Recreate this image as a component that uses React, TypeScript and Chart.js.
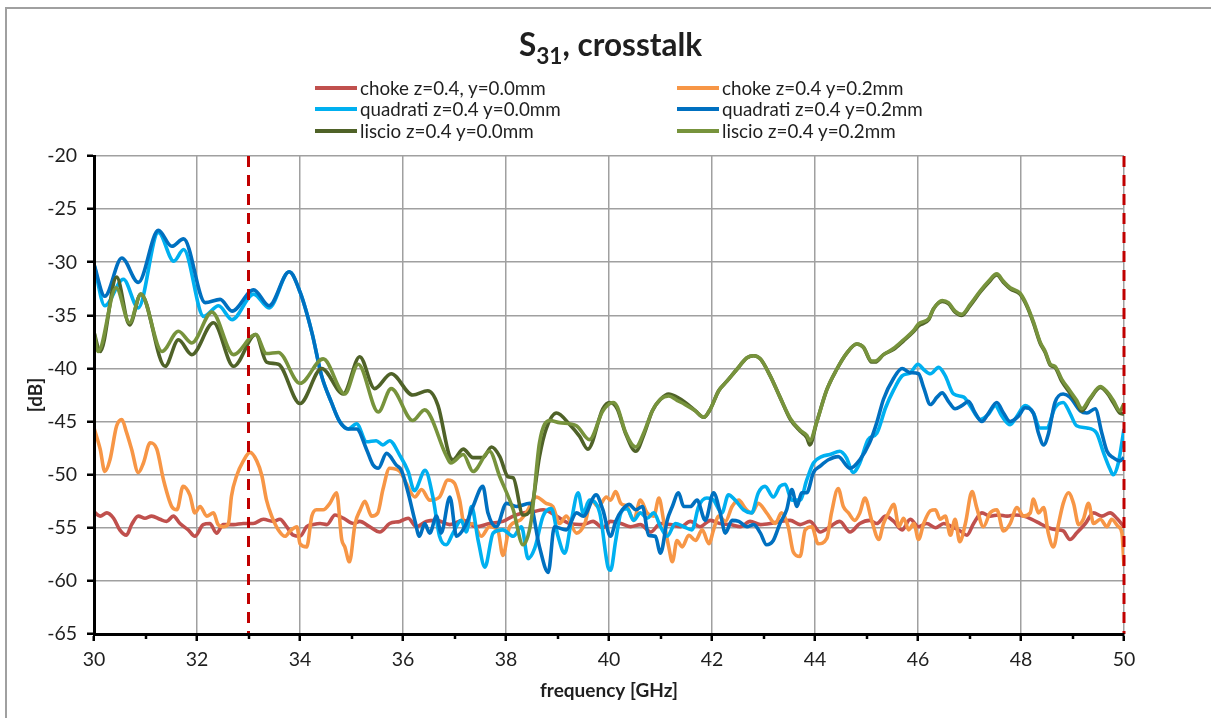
import React, { useEffect, useRef } from "react";
import { Chart, registerables } from "chart.js";

Chart.register(...registerables);

type Pt = [number, number];

// ---------- data: [frequency GHz, dB] ----------
const chokeY00: Pt[] = [
  [30.00,-53.5],[30.12,-53.9],[30.25,-53.6],[30.38,-54.1],[30.50,-55.2],[30.63,-55.7],[30.73,-54.7],[30.86,-53.9],[30.99,-54.1],[31.12,-53.9],
  [31.28,-54.2],[31.41,-54.4],[31.54,-53.9],[31.67,-54.6],[31.83,-55.2],[31.96,-55.8],[32.12,-54.7],[32.25,-54.6],[32.38,-55.5],[32.51,-54.7],
  [32.71,-54.7],[32.90,-54.6],[33.09,-54.6],[33.29,-54.2],[33.48,-54.4],[33.61,-54.2],[33.74,-54.9],[33.87,-55.7],[34.00,-55.8],[34.13,-54.9],
  [34.26,-54.7],[34.39,-54.6],[34.52,-54.7],[34.68,-53.8],[34.84,-54.1],[35.04,-54.6],[35.16,-54.4],[35.35,-54.9],[35.55,-55.4],[35.74,-54.6],
  [35.94,-54.4],[36.10,-54.1],[36.26,-54.9],[36.45,-54.4],[36.65,-54.3],[36.91,-54.7],[37.17,-54.3],[37.42,-54.9],[37.68,-54.6],[37.94,-54.4],
  [38.14,-53.9],[38.33,-53.6],[38.52,-53.5],[38.72,-53.3],[38.98,-53.9],[39.24,-54.6],[39.50,-54.7],[39.69,-54.4],[39.88,-55.0],[40.03,-54.4],
  [40.23,-54.6],[40.42,-54.9],[40.61,-54.7],[40.81,-55.4],[41.00,-54.6],[41.19,-54.7],[41.39,-54.9],[41.58,-54.4],[41.77,-54.9],[41.97,-54.3],
  [42.16,-54.6],[42.35,-54.7],[42.55,-54.9],[42.74,-54.4],[42.94,-54.7],[43.13,-54.6],[43.32,-54.4],[43.52,-54.3],[43.71,-54.7],[43.90,-54.4],
  [44.10,-55.4],[44.29,-54.9],[44.48,-54.4],[44.68,-55.4],[44.87,-54.6],[45.06,-54.3],[45.20,-54.6],[45.37,-53.9],[45.53,-54.4],[45.69,-55.2],
  [45.85,-54.2],[46.01,-54.9],[46.17,-54.6],[46.34,-55.0],[46.50,-54.6],[46.66,-54.9],[46.82,-55.3],[46.95,-55.7],[47.08,-54.6],[47.24,-53.6],
  [47.40,-53.9],[47.56,-53.8],[47.73,-53.9],[47.89,-53.8],[48.05,-53.9],[48.21,-54.2],[48.37,-54.6],[48.53,-55.0],[48.70,-55.2],[48.82,-55.3],
  [48.95,-56.1],[49.08,-55.5],[49.25,-54.6],[49.41,-53.6],[49.57,-53.9],[49.73,-53.6],[49.86,-54.1],[50.00,-54.9],
];

const chokeY02: Pt[] = [
  [30.00,-45.6],[30.12,-47.6],[30.21,-49.7],[30.31,-48.6],[30.44,-45.4],[30.54,-44.8],[30.63,-46.0],[30.73,-47.6],[30.86,-49.8],[30.96,-48.9],
  [31.09,-47.0],[31.22,-47.6],[31.35,-50.5],[31.51,-53.0],[31.61,-53.3],[31.73,-51.1],[31.86,-51.9],[31.96,-53.6],[32.06,-53.0],[32.19,-53.9],
  [32.32,-53.6],[32.41,-54.7],[32.51,-54.9],[32.61,-54.6],[32.67,-52.0],[32.77,-50.1],[32.90,-48.7],[33.03,-47.9],[33.16,-48.7],[33.26,-50.1],
  [33.35,-52.4],[33.45,-53.9],[33.58,-55.2],[33.71,-55.8],[33.81,-55.3],[33.94,-54.9],[34.00,-56.5],[34.13,-56.8],[34.23,-53.9],[34.32,-53.3],
  [34.45,-53.3],[34.58,-52.7],[34.71,-51.7],[34.81,-56.1],[34.87,-56.8],[34.96,-58.2],[35.07,-54.6],[35.17,-53.3],[35.26,-52.5],[35.39,-53.9],
  [35.51,-53.6],[35.61,-51.4],[35.74,-49.4],[35.94,-49.7],[36.06,-50.8],[36.23,-52.1],[36.36,-51.4],[36.52,-52.4],[36.71,-52.1],[36.87,-50.5],
  [37.00,-50.8],[37.10,-52.4],[37.20,-54.9],[37.36,-54.6],[37.52,-55.8],[37.68,-54.9],[37.84,-55.2],[37.94,-57.6],[38.07,-54.9],[38.27,-54.3],
  [38.39,-53.6],[38.59,-52.1],[38.78,-52.7],[38.91,-53.0],[39.04,-54.6],[39.17,-53.9],[39.37,-55.5],[39.53,-54.6],[39.66,-52.4],[39.79,-53.0],
  [39.95,-52.1],[40.03,-52.4],[40.13,-51.6],[40.23,-52.7],[40.35,-53.0],[40.48,-54.3],[40.61,-52.4],[40.74,-53.6],[40.87,-53.9],[40.97,-52.2],
  [41.06,-54.3],[41.16,-56.8],[41.23,-58.2],[41.32,-56.2],[41.42,-56.8],[41.55,-55.7],[41.68,-56.2],[41.81,-55.2],[41.94,-56.5],[42.03,-55.2],
  [42.13,-53.9],[42.26,-54.4],[42.39,-53.0],[42.52,-52.4],[42.65,-53.2],[42.77,-53.6],[42.90,-52.7],[43.06,-53.6],[43.23,-54.6],[43.35,-53.6],
  [43.48,-54.9],[43.58,-57.3],[43.71,-57.7],[43.81,-55.2],[43.94,-54.9],[44.06,-56.5],[44.23,-56.0],[44.32,-53.6],[44.45,-51.3],[44.55,-53.0],
  [44.65,-53.6],[44.77,-54.3],[44.87,-53.6],[44.97,-52.2],[45.10,-54.3],[45.24,-56.1],[45.33,-54.6],[45.43,-53.6],[45.53,-52.8],[45.63,-54.9],
  [45.72,-54.1],[45.82,-55.2],[45.92,-54.6],[46.01,-56.1],[46.11,-54.6],[46.24,-53.4],[46.34,-53.3],[46.43,-54.2],[46.53,-53.9],[46.63,-55.7],
  [46.72,-54.2],[46.81,-56.3],[46.92,-54.6],[47.05,-51.6],[47.14,-53.1],[47.27,-54.9],[47.40,-53.6],[47.53,-53.3],[47.66,-55.3],[47.79,-54.6],
  [47.92,-53.1],[48.05,-53.9],[48.18,-53.6],[48.24,-52.3],[48.34,-53.6],[48.44,-53.1],[48.53,-55.5],[48.63,-56.8],[48.73,-54.6],[48.82,-52.7],
  [48.92,-51.7],[49.02,-52.7],[49.12,-54.7],[49.21,-54.2],[49.31,-52.7],[49.41,-54.6],[49.54,-54.2],[49.67,-54.9],[49.76,-54.2],[49.89,-54.9],
  [49.96,-55.5],[50.00,-58.6],
];

const quadratiY00: Pt[] = [
  [30.00,-30.2],[30.21,-34.1],[30.57,-31.6],[30.86,-34.3],[31.25,-27.2],[31.55,-29.9],[31.74,-28.8],[32.13,-35.1],[32.42,-34.1],[32.68,-35.4],
  [33.10,-33.0],[33.40,-34.3],[33.79,-30.9],[34.00,-32.8],[34.23,-36.6],[34.42,-40.7],[34.61,-43.2],[34.77,-45.0],[34.94,-45.7],[35.10,-45.2],
  [35.29,-46.9],[35.48,-46.8],[35.61,-47.2],[35.74,-46.8],[35.94,-48.2],[36.10,-49.7],[36.22,-51.5],[36.43,-49.6],[36.58,-52.1],[36.71,-55.8],
  [36.84,-56.6],[36.97,-55.5],[37.13,-54.3],[37.23,-55.4],[37.33,-53.0],[37.46,-56.2],[37.59,-58.7],[37.75,-55.5],[37.94,-55.2],[38.14,-55.8],
  [38.30,-54.9],[38.43,-57.9],[38.56,-56.9],[38.72,-53.9],[38.88,-53.2],[39.01,-55.8],[39.14,-57.4],[39.27,-54.3],[39.40,-51.7],[39.50,-53.6],
  [39.62,-52.4],[39.82,-53.6],[39.98,-58.7],[40.03,-59.0],[40.13,-56.2],[40.23,-53.6],[40.35,-53.2],[40.48,-54.3],[40.61,-53.6],[40.74,-54.1],
  [40.87,-53.6],[41.00,-54.9],[41.13,-55.8],[41.29,-54.6],[41.45,-54.9],[41.61,-55.2],[41.74,-53.0],[41.90,-52.2],[42.03,-52.4],[42.19,-53.6],
  [42.32,-51.9],[42.45,-52.4],[42.61,-53.3],[42.77,-53.6],[42.90,-51.7],[43.03,-51.1],[43.19,-52.1],[43.32,-51.1],[43.42,-50.9],[43.55,-52.4],
  [43.71,-52.4],[43.84,-50.5],[43.97,-48.9],[44.13,-48.3],[44.29,-48.1],[44.48,-47.8],[44.61,-48.4],[44.74,-49.8],[44.87,-48.9],[45.03,-46.7],
  [45.20,-46.1],[45.37,-43.7],[45.53,-42.0],[45.69,-40.7],[45.85,-40.4],[46.00,-39.6],[46.11,-40.1],[46.24,-40.5],[46.40,-39.9],[46.53,-40.7],
  [46.69,-42.4],[46.89,-42.7],[47.01,-43.5],[47.21,-44.8],[47.37,-44.3],[47.50,-43.5],[47.63,-44.5],[47.79,-45.3],[47.92,-44.5],[48.08,-43.5],
  [48.24,-44.2],[48.37,-45.6],[48.50,-45.6],[48.66,-43.7],[48.82,-43.2],[48.95,-44.2],[49.08,-45.4],[49.28,-45.6],[49.47,-46.1],[49.60,-47.9],
  [49.73,-49.5],[49.79,-50.0],[49.89,-48.9],[50.00,-45.7],
];

const quadratiY02: Pt[] = [
  [30.00,-30.2],[30.21,-33.2],[30.54,-29.6],[30.86,-31.9],[31.25,-27.0],[31.51,-28.5],[31.74,-27.8],[32.16,-33.8],[32.45,-33.5],[32.68,-34.6],
  [33.10,-32.6],[33.40,-34.1],[33.79,-30.9],[34.00,-32.8],[34.23,-36.6],[34.42,-40.7],[34.61,-43.2],[34.77,-45.0],[34.94,-45.7],[35.10,-45.7],
  [35.29,-47.6],[35.42,-49.1],[35.52,-49.4],[35.68,-48.0],[35.87,-49.1],[35.97,-49.6],[36.10,-51.7],[36.23,-54.3],[36.32,-55.8],[36.42,-54.6],
  [36.52,-55.5],[36.65,-53.9],[36.74,-55.5],[36.91,-52.1],[37.04,-55.8],[37.20,-54.9],[37.36,-53.0],[37.55,-51.1],[37.65,-53.6],[37.81,-54.9],
  [38.01,-52.7],[38.20,-53.0],[38.46,-52.7],[38.65,-56.8],[38.82,-59.2],[38.94,-54.9],[39.17,-55.2],[39.37,-53.6],[39.50,-53.9],[39.75,-51.9],
  [39.88,-53.3],[40.03,-55.8],[40.13,-54.4],[40.26,-53.3],[40.39,-52.8],[40.52,-53.3],[40.65,-53.0],[40.77,-55.7],[40.90,-55.8],[41.00,-57.4],
  [41.13,-54.3],[41.23,-53.0],[41.35,-51.7],[41.45,-53.0],[41.58,-53.0],[41.71,-52.4],[41.87,-54.3],[42.03,-51.7],[42.16,-53.6],[42.26,-55.5],
  [42.39,-54.3],[42.52,-54.4],[42.68,-54.9],[42.81,-54.7],[42.94,-55.5],[43.06,-56.6],[43.19,-56.2],[43.32,-54.6],[43.45,-53.3],[43.55,-51.4],
  [43.65,-53.0],[43.74,-51.7],[43.84,-51.7],[43.97,-49.8],[44.10,-49.2],[44.26,-48.6],[44.45,-48.3],[44.68,-49.4],[44.87,-48.6],[45.06,-47.0],
  [45.20,-45.1],[45.33,-42.9],[45.53,-40.9],[45.69,-40.0],[45.85,-40.4],[46.01,-40.5],[46.11,-41.8],[46.24,-43.4],[46.37,-42.7],[46.47,-42.3],
  [46.59,-43.1],[46.72,-43.8],[46.85,-43.5],[46.98,-43.1],[47.11,-44.2],[47.24,-45.0],[47.37,-44.2],[47.53,-43.2],[47.66,-44.2],[47.79,-45.0],
  [47.95,-44.5],[48.08,-43.7],[48.24,-44.2],[48.34,-46.1],[48.44,-47.2],[48.53,-46.2],[48.66,-43.2],[48.82,-42.4],[48.95,-42.7],[49.15,-44.0],
  [49.28,-44.2],[49.44,-43.8],[49.57,-46.1],[49.67,-47.8],[49.79,-48.4],[49.92,-48.7],[50.00,-48.4],
];

const liscioY00: Pt[] = [
  [30.00,-36.6],[30.12,-38.4],[30.44,-31.4],[30.69,-35.9],[30.91,-33.0],[31.38,-39.8],[31.64,-37.3],[31.90,-38.7],[32.32,-35.7],[32.71,-39.8],
  [33.14,-36.8],[33.35,-39.4],[33.58,-39.6],[34.00,-43.3],[34.42,-40.0],[34.84,-42.4],[35.16,-38.9],[35.45,-41.9],[35.77,-40.5],[36.19,-42.5],
  [36.48,-42.1],[36.68,-43.5],[36.90,-48.2],[36.97,-48.6],[37.17,-47.6],[37.36,-48.4],[37.55,-48.4],[37.72,-47.4],[37.88,-48.3],[38.04,-50.2],
  [38.14,-50.3],[38.33,-53.8],[38.49,-53.2],[38.65,-48.3],[38.78,-45.7],[38.98,-44.2],[39.24,-45.3],[39.43,-46.4],[39.59,-47.6],[39.88,-43.8],
  [40.01,-43.2],[40.16,-43.8],[40.32,-46.1],[40.52,-47.8],[40.68,-46.2],[40.84,-44.0],[41.00,-42.9],[41.16,-42.4],[41.32,-42.7],[41.48,-43.2],
  [41.68,-44.0],[41.84,-44.6],[41.97,-43.8],[42.13,-42.1],[42.29,-41.2],[42.48,-40.1],[42.68,-39.0],[42.81,-38.8],[42.94,-39.1],[43.13,-40.7],
  [43.32,-42.7],[43.52,-44.8],[43.71,-45.9],[43.84,-46.5],[43.90,-47.2],[44.03,-45.1],[44.23,-42.0],[44.42,-40.1],[44.61,-38.6],[44.81,-37.7],
  [44.94,-38.0],[45.10,-39.4],[45.17,-39.4],[45.33,-38.7],[45.53,-38.2],[45.72,-37.4],[45.92,-36.5],[46.01,-36.0],[46.21,-35.4],[46.30,-34.4],
  [46.47,-33.7],[46.59,-33.9],[46.72,-34.7],[46.85,-35.0],[47.01,-34.1],[47.21,-32.8],[47.37,-31.9],[47.53,-31.2],[47.66,-31.9],[47.79,-32.5],
  [47.98,-33.0],[48.11,-34.1],[48.24,-35.7],[48.37,-37.6],[48.47,-38.5],[48.57,-39.7],[48.66,-39.9],[48.79,-41.2],[48.95,-42.3],[49.08,-43.2],
  [49.18,-44.0],[49.34,-42.9],[49.54,-41.8],[49.67,-42.3],[49.79,-43.2],[49.92,-44.2],[50.00,-44.3],
];

const liscioY02: Pt[] = [
  [30.00,-36.6],[30.08,-38.4],[30.43,-32.4],[30.69,-35.7],[30.91,-33.0],[31.32,-38.4],[31.64,-36.5],[31.90,-37.6],[32.29,-34.7],[32.71,-38.7],
  [33.14,-36.8],[33.35,-38.6],[33.58,-38.5],[34.00,-41.4],[34.45,-39.1],[34.87,-42.4],[35.13,-39.6],[35.52,-44.1],[35.77,-41.9],[36.19,-44.9],
  [36.42,-43.9],[36.84,-48.2],[36.93,-48.9],[37.17,-48.1],[37.36,-49.7],[37.68,-47.8],[37.88,-50.2],[38.14,-53.3],[38.33,-56.6],[38.49,-54.3],
  [38.65,-47.0],[38.85,-44.9],[39.04,-45.1],[39.37,-45.4],[39.62,-46.7],[39.88,-44.0],[40.08,-43.2],[40.16,-43.6],[40.32,-46.0],[40.52,-47.4],
  [40.68,-46.0],[40.84,-44.0],[41.00,-42.9],[41.16,-42.6],[41.32,-43.0],[41.48,-43.4],[41.68,-44.0],[41.84,-44.6],[41.97,-43.8],[42.13,-42.1],
  [42.29,-41.2],[42.48,-40.1],[42.68,-39.0],[42.81,-38.8],[42.94,-39.1],[43.13,-40.7],[43.32,-42.7],[43.52,-44.7],[43.71,-45.8],[43.84,-46.3],
  [43.90,-46.8],[44.03,-45.1],[44.23,-42.0],[44.42,-40.1],[44.61,-38.6],[44.81,-37.7],[44.94,-38.0],[45.10,-39.3],[45.17,-39.3],[45.33,-38.7],
  [45.53,-38.1],[45.72,-37.3],[45.92,-36.4],[46.01,-35.8],[46.21,-35.3],[46.30,-34.4],[46.47,-33.6],[46.59,-33.8],[46.72,-34.6],[46.85,-34.9],
  [47.01,-34.0],[47.21,-32.7],[47.37,-31.8],[47.53,-31.1],[47.66,-31.8],[47.79,-32.4],[47.98,-32.9],[48.11,-34.0],[48.24,-35.6],[48.37,-37.5],
  [48.47,-38.4],[48.57,-39.6],[48.66,-39.8],[48.79,-41.0],[48.95,-42.1],[49.08,-43.0],[49.18,-43.8],[49.34,-42.8],[49.54,-41.7],[49.67,-42.2],
  [49.79,-43.0],[49.92,-44.0],[50.00,-43.3],
];

const seriesNames = [
  "choke z=0.4, y=0.0mm",
  "choke z=0.4 y=0.2mm",
  "quadrati z=0.4 y=0.0mm",
  "quadrati z=0.4 y=0.2mm",
  "liscio z=0.4 y=0.0mm",
  "liscio z=0.4 y=0.2mm",
];
const seriesColors = ["#C0504D", "#F79646", "#00B0F0", "#0070C0", "#4F6228", "#77933C"];

const markerFreqs = [33, 50];
const xMin = 30, xMax = 50, xStep = 2;
const yMin = -65, yMax = -20, yStep = 5;
const xTitle = "frequency [GHz]";
const yTitle = "[dB]";

const FONT = "Lato, 'Liberation Sans', Arial, sans-serif";
const TEXT = "#1f1f1f";

export default function App() {
  const ref = useRef<HTMLCanvasElement | null>(null);

  useEffect(() => {
    const canvas = ref.current;
    if (!canvas) return;
    const series = [chokeY00, chokeY02, quadratiY00, quadratiY02, liscioY00, liscioY02];
    const datasets: any[] = [];
    markerFreqs.forEach((f) =>
      datasets.push({
        label: "marker",
        data: [{ x: f, y: yMax }, { x: f, y: yMin }],
        borderColor: "#C00000",
        borderWidth: 3,
        borderDash: [11, 8],
        pointRadius: 0,
        clip: false,
        order: 0,
      })
    );
    series.forEach((s, i) =>
      datasets.push({
        label: seriesNames[i],
        data: s.map(([x, y]) => ({ x, y })),
        borderColor: seriesColors[i],
        backgroundColor: seriesColors[i],
        borderWidth: 3.6,
        pointRadius: 0,
        cubicInterpolationMode: "monotone",
        fill: false,
        order: 10 - i,
      })
    );

    const minorTicks = {
      id: "minorTicks",
      afterDraw(chart: any) {
        const { ctx, chartArea, scales } = chart;
        ctx.save();
        ctx.strokeStyle = "#000";
        ctx.lineWidth = 2.5;
        for (let v = xMin + xStep / 2; v < xMax; v += xStep) {
          const px = Math.round(scales.x.getPixelForValue(v));
          ctx.beginPath();
          ctx.moveTo(px, chartArea.bottom);
          ctx.lineTo(px, chartArea.bottom + 5);
          ctx.stroke();
        }
        ctx.restore();
      },
    };

    const chart = new Chart(canvas, {
      type: "line",
      data: { datasets },
      options: {
        animation: false,
        responsive: false,
        maintainAspectRatio: false,
        layout: { padding: { top: 156, right: 87, left: 0, bottom: 0 } },
        plugins: {
          legend: { display: false },
          title: { display: false },
          tooltip: { enabled: false },
        },
        scales: {
          x: {
            type: "linear",
            min: xMin,
            max: xMax,
            afterFit: (s: any) => {
              s.height = 84;
            },
            ticks: {
              stepSize: xStep,
              font: { family: FONT, size: 19.5 },
              color: TEXT,
              padding: 7,
              maxRotation: 0,
              autoSkip: false,
            },
            grid: {
              color: "#a0a0a0",
              lineWidth: 1.5,
              tickColor: "#000",
              tickLength: 7,
              tickWidth: 2.5,
            },
            border: { color: "#000", width: 3, z: 1 },
            title: {
              display: true,
              text: xTitle,
              color: TEXT,
              font: { family: FONT, size: 19, weight: "bold" },
              padding: { top: 0, bottom: 16 },
            },
          },
          y: {
            type: "linear",
            min: yMin,
            max: yMax,
            afterFit: (s: any) => {
              s.width = 94;
            },
            ticks: {
              stepSize: yStep,
              font: { family: FONT, size: 19.5 },
              color: TEXT,
              padding: 10,
            },
            grid: {
              color: "#a0a0a0",
              lineWidth: 1.5,
              tickColor: "#000",
              tickLength: 7,
              tickWidth: 2.5,
            },
            border: { color: "#000", width: 3, z: 1 },
            title: {
              display: true,
              text: yTitle,
              color: TEXT,
              font: { family: FONT, size: 19, weight: "bold" },
              padding: { top: 24, bottom: 0 },
            },
          },
        },
      } as any,
      plugins: [minorTicks],
    });
    return () => chart.destroy();
  }, []);

  const legendCols = [315, 677];
  const legendRowCenter = [87.5, 109.2, 130.9];

  return (
    <div
      style={{
        position: "absolute",
        left: 0,
        top: 0,
        width: 1211,
        height: 718,
        overflow: "hidden",
        background: "#fff",
        fontFamily: FONT,
        color: TEXT,
      }}
    >
      <div
        style={{
          position: "absolute",
          left: 5,
          top: 7,
          width: 1400,
          height: 900,
          borderLeft: "2px solid #a0a0a0",
          borderTop: "2px solid #a0a0a0",
        }}
      />
      <canvas
        ref={ref}
        width={1211}
        height={718}
        style={{ position: "absolute", left: 0, top: 0, width: 1211, height: 718 }}
      />
      <div
        style={{
          position: "absolute",
          left: 0,
          width: 1221,
          top: 29,
          textAlign: "center",
          fontSize: 31.5,
          lineHeight: "31px",
          fontWeight: "bold",
          whiteSpace: "nowrap",
        }}
      >
        S
        <span style={{ fontSize: "0.72em", position: "relative", top: 8 }}>31</span>
        , crosstalk
      </div>
      {seriesNames.map((name, i) => {
        const col = i % 2;
        const row = Math.floor(i / 2);
        return (
          <div
            key={name}
            style={{
              position: "absolute",
              left: legendCols[col],
              top: legendRowCenter[row] - 11,
              height: 22,
              display: "flex",
              alignItems: "center",
              whiteSpace: "nowrap",
              fontSize: 18.8,
              lineHeight: "22px",
            }}
          >
            <div style={{ width: 42, height: 4, background: seriesColors[i], marginRight: 3 }} />
            <span>{name}</span>
          </div>
        );
      })}
    </div>
  );
}
